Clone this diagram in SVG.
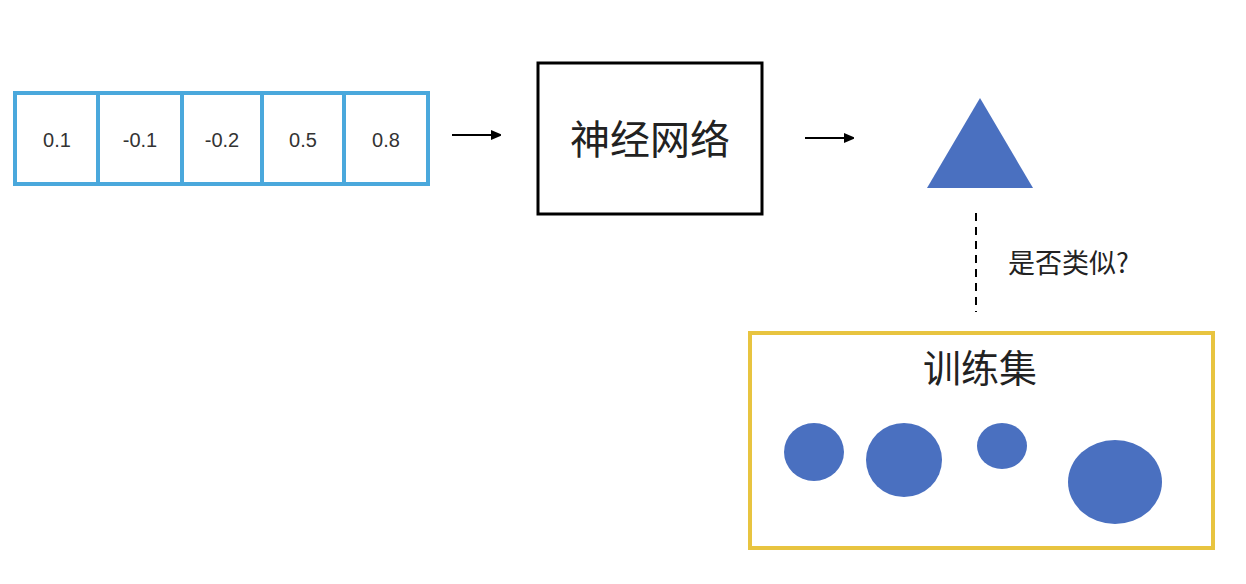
<svg xmlns="http://www.w3.org/2000/svg" width="1246" height="584" viewBox="0 0 1246 584">
<style>
.cell{fill:#fff;stroke:#4aa8dc;stroke-width:4}
.num{font-family:"Liberation Sans",Arial,sans-serif;font-size:20px;fill:#333;text-anchor:middle}
.cjk{font-family:"Noto Sans CJK SC","Liberation Sans",sans-serif;fill:#222}
.blue{fill:#4a70c0}
.conn{stroke:#000;stroke-width:2;fill:none}
</style>
<defs><marker id="ah" markerWidth="10" markerHeight="10" refX="9" refY="5" orient="auto" markerUnits="userSpaceOnUse"><path d="M0,0 L12,5 L0,10 Z" fill="#000"/></marker></defs>
<rect width="1246" height="584" fill="#fff"/>
<g id="vector">
<rect class="cell" x="15" y="93" width="83" height="91"/>
<rect class="cell" x="98" y="93" width="84" height="91"/>
<rect class="cell" x="182" y="93" width="80" height="91"/>
<rect class="cell" x="262" y="93" width="82" height="91"/>
<rect class="cell" x="344" y="93" width="84" height="91"/>
<text class="num" x="57" y="147">0.1</text>
<text class="num" x="140" y="147">-0.1</text>
<text class="num" x="222" y="147">-0.2</text>
<text class="num" x="303" y="147">0.5</text>
<text class="num" x="386" y="147">0.8</text>
</g>
<g id="nn">
<rect x="538" y="63" width="224" height="151" fill="#fff" stroke="#000" stroke-width="3"/>
<text class="cjk" x="650" y="154" font-size="40" text-anchor="middle">神经网络</text>
</g>
<g id="output"><polygon class="blue" points="980,98 1033,188 927,188"/></g>
<g id="trainset">
<rect x="750" y="333" width="463" height="215" fill="#fff" stroke="#e8c440" stroke-width="4"/>
<text class="cjk" x="980" y="382" font-size="38" text-anchor="middle">训练集</text>
<ellipse class="blue" cx="814" cy="452" rx="30" ry="29"/>
<ellipse class="blue" cx="904" cy="460" rx="38" ry="37"/>
<ellipse class="blue" cx="1002" cy="446" rx="25" ry="23"/>
<ellipse class="blue" cx="1115" cy="482" rx="47" ry="42"/>
</g>
<g id="connectors">
<line class="conn" x1="452" y1="135" x2="500" y2="135" marker-end="url(#ah)"/>
<line class="conn" x1="805" y1="138" x2="853" y2="138" marker-end="url(#ah)"/>
<line class="conn" x1="976" y1="213" x2="976" y2="312" stroke-dasharray="8,6"/>
<text class="cjk" x="1008" y="273" font-size="27">是否类似?</text>
</g>
</svg>
